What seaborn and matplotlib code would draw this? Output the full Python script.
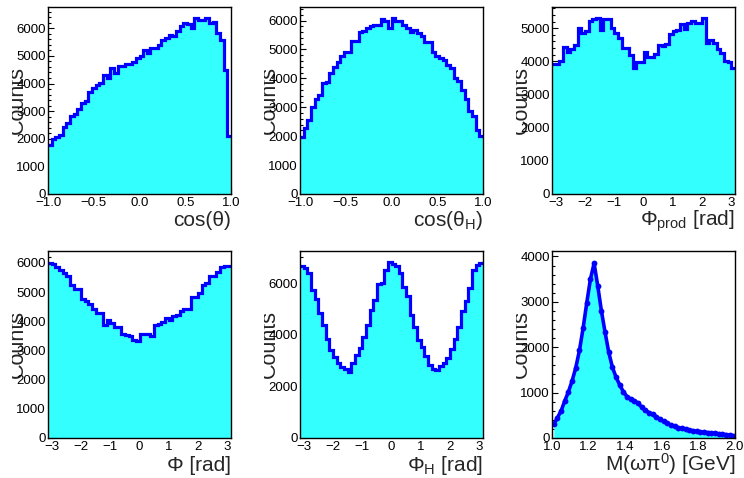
import numpy as np
import pandas as pd
import matplotlib
matplotlib.use("Agg")
import matplotlib.pyplot as plt
import seaborn as sns
from matplotlib.ticker import MultipleLocator, FuncFormatter
from matplotlib.transforms import Bbox, TransformedBbox

# ---------------- data (bin contents) ----------------
cos_theta_counts = [1770, 2000, 2070, 2150, 2420, 2580, 2820, 2900, 3080, 3300,
                    3380, 3680, 3840, 3930, 4020, 4320, 4200, 4560, 4380, 4620,
                    4620, 4720, 4700, 4770, 4920, 4980, 5220, 5120, 5300, 5280,
                    5400, 5580, 5660, 5760, 5720, 5900, 6070, 6180, 6150, 6020,
                    6360, 6300, 6300, 6360, 6180, 6210, 5820, 5580, 4500, 2100]

cos_thetaH_counts = [1970, 2290, 2570, 3000, 3300, 3440, 3840, 3870, 4180, 4410,
                     4560, 4760, 4900, 4910, 5280, 5280, 5590, 5640, 5740, 5820,
                     5840, 5850, 6060, 5970, 5760, 6080, 5990, 5970, 5830, 5740,
                     5620, 5680, 5560, 5450, 5250, 5250, 4900, 4790, 4720, 4640,
                     4450, 4360, 4030, 3900, 3610, 3300, 2860, 2690, 2230, 2000]

phi_prod_counts = [3920, 3920, 4000, 4420, 4280, 4380, 4480, 5000, 4850, 4920,
                   5220, 5280, 5320, 4950, 5280, 5280, 5000, 4850, 4720, 4400,
                   4400, 4200, 3800, 3970, 3980, 4270, 4120, 4120, 4220, 4480,
                   4450, 4520, 4820, 4930, 4950, 5130, 4980, 5150, 5220, 5150,
                   5150, 5300, 4550, 4650, 4550, 4380, 4250, 4020, 3980, 3800]

phi_counts = [5990, 5950, 5860, 5770, 5650, 5570, 5250, 5110, 5110, 4770,
              4710, 4600, 4430, 4280, 4280, 3860, 4060, 3940, 3800, 3800,
              3570, 3540, 3480, 3370, 3320, 3550, 3570, 3550, 3510, 3860,
              3910, 3960, 4120, 4030, 4170, 4230, 4340, 4430, 4430, 4830,
              4850, 4970, 5250, 5310, 5540, 5540, 5690, 5860, 5910, 5880]

phiH_counts = [6650, 6580, 6390, 5720, 5380, 4840, 4390, 3830, 3420, 3140,
               2900, 2750, 2670, 2570, 2900, 3230, 3480, 3910, 4390, 4970,
               5350, 5970, 6000, 6490, 6810, 6750, 6670, 6390, 5850, 5480,
               4770, 4300, 3780, 3520, 3160, 2840, 2670, 2620, 2770, 2900,
               3100, 3450, 3830, 4300, 4900, 5290, 5810, 6520, 6710, 6770]

mass_counts = [300, 450, 600, 820, 1020, 1260, 1550, 1930, 2420, 2980,
               3500, 3850, 3350, 2800, 2330, 1890, 1560, 1340, 1170, 1020,
               910, 860, 820, 770, 680, 610, 560, 520, 470, 410,
               365, 320, 285, 255, 230, 210, 192, 178, 162, 148,
               135, 127, 120, 112, 105, 95, 85, 75, 65, 50]

x_labels = ["cos(θ)", r"cos(θ$_{\mathrm{H}}$)", r"Φ$_{\mathrm{prod}}$ [rad]",
            "Φ [rad]", r"Φ$_{\mathrm{H}}$ [rad]", r"M(ωπ$^{0}$) [GeV]"]
y_label = "Counts"
x_ranges = [(-1.0, 1.0), (-1.0, 1.0), (-np.pi, np.pi),
            (-np.pi, np.pi), (-np.pi, np.pi), (1.0, 2.0)]
y_tops = [6770, 6470, 5640, 6410, 7240, 4120]
all_counts = [cos_theta_counts, cos_thetaH_counts, phi_prod_counts,
              phi_counts, phiH_counts, mass_counts]

# ---------------- style ----------------
sns.set_theme(style="white")
plt.rcParams["font.family"] = ["Liberation Sans", "DejaVu Sans"]
plt.rcParams["mathtext.fontset"] = "custom"
plt.rcParams["mathtext.rm"] = "Liberation Sans"
plt.rcParams["mathtext.it"] = "Liberation Sans"
plt.rcParams["mathtext.bf"] = "Liberation Sans:bold"

FILL = "#33ffff"
LINE = "#0000ff"

W, H = 744, 478
fig = plt.figure(figsize=(W / 100, H / 100), dpi=100)

col_left = [48, 300, 552]
row_top = [7, 251]
ax_w, ax_h = 183, 187

x_major = [0.5, 0.5, 1, 1, 1, 0.2]
x_minor = [0.1, 0.1, 0.2, 0.2, 0.2, 0.04]
x_fmt = ["%.1f", "%.1f", "%d", "%d", "%d", "%.1f"]
y_major = [1000, 1000, 1000, 1000, 2000, 1000]
y_minor = [200, 200, 200, 200, 500, 200]
xlabel_off = [-32, -32, -32, -33, -33, -33]


def make_fmt(fmt):
    return FuncFormatter(lambda v, p: (fmt % v).replace("-", "\u2212"))


for i in range(6):
    r, c = divmod(i, 3)
    left = col_left[c]
    top = row_top[r]
    ax = fig.add_axes([left / W, 1 - (top + ax_h) / H, ax_w / W, ax_h / H])
    lo, hi = x_ranges[i]
    counts = np.array(all_counts[i], dtype=float)
    edges = np.linspace(lo, hi, len(counts) + 1)
    centers = 0.5 * (edges[:-1] + edges[1:])
    df = pd.DataFrame({"x": centers, "w": counts})
    bins = [float(e) for e in edges]
    if i < 5:
        sns.histplot(data=df, x="x", weights="w", bins=bins,
                     element="step", fill=True, color=FILL, alpha=1.0,
                     linewidth=0, ax=ax)
        ax.stairs(counts, edges, color=LINE, lw=2.3, baseline=None, zorder=3)
    else:
        sns.histplot(data=df, x="x", weights="w", bins=bins,
                     element="poly", fill=True, color=FILL, alpha=1.0,
                     linewidth=0, ax=ax)
        sns.lineplot(data=df, x="x", y="w", color=LINE, lw=2.6, marker="o",
                     ms=4.2, mew=0, ax=ax, zorder=4)

    ax.set_xlim(lo, hi)
    ax.set_ylim(0, y_tops[i])
    ax.set_xlabel("")
    ax.set_ylabel("")
    ax.xaxis.set_major_locator(MultipleLocator(x_major[i]))
    ax.xaxis.set_minor_locator(MultipleLocator(x_minor[i]))
    ax.xaxis.set_major_formatter(make_fmt(x_fmt[i]))
    ax.yaxis.set_major_locator(MultipleLocator(y_major[i]))
    ax.yaxis.set_minor_locator(MultipleLocator(y_minor[i]))
    ax.yaxis.set_major_formatter(make_fmt("%d"))
    ax.tick_params(which="both", direction="in", top=False, right=False,
                   bottom=True, left=True, labelsize=9.5, colors="black",
                   width=0.8)
    ax.tick_params(which="major", length=4.0)
    ax.tick_params(which="minor", length=2.2)
    ax.tick_params(axis="x", pad=2.5)
    ax.tick_params(axis="y", pad=1.5)
    for s in ax.spines.values():
        s.set_color("black")
        s.set_linewidth(1.0)
        s.set_zorder(5)

    ax.annotate(x_labels[i], xy=(1, 0), xycoords="axes fraction",
                xytext=(0, xlabel_off[i]), textcoords="offset pixels",
                ha="right", va="baseline", fontsize=15)

    # clipped "Counts" title, as in the reference
    yc = top + ax_h / 2
    t = fig.text((left - 25) / W, 1 - yc / H, y_label, rotation=90,
                 rotation_mode="anchor", ha="center", va="baseline",
                 fontsize=15.5, zorder=-1)
    t.set_clip_box(TransformedBbox(Bbox.from_extents((left - 36) / W, 0, 1, 1),
                                   fig.transFigure))
    t.set_clip_on(True)

fig.savefig("out.png", dpi=100)
